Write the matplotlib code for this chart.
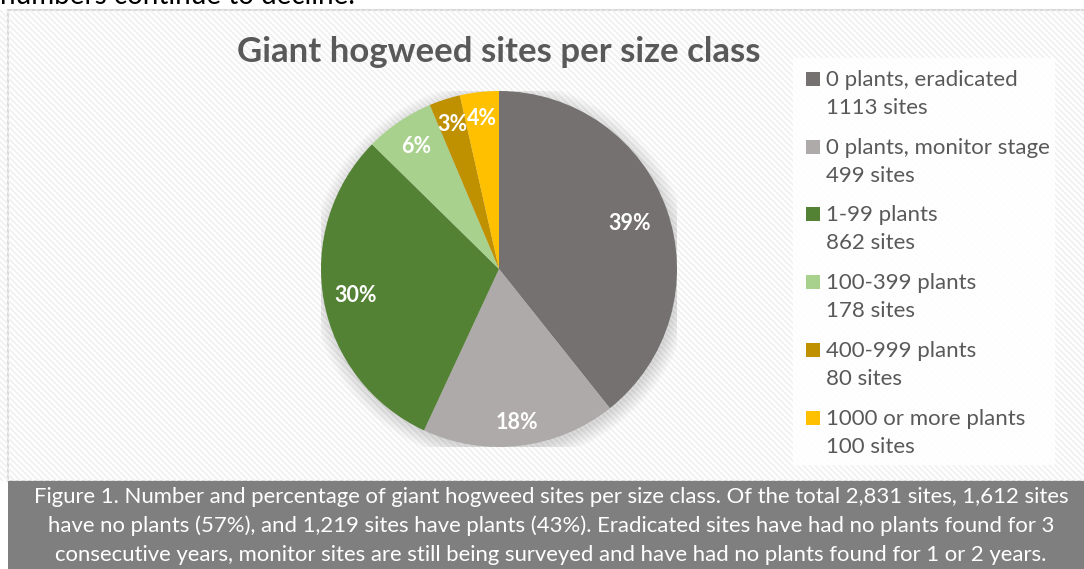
import numpy as np
import matplotlib
matplotlib.use('Agg')
import matplotlib.pyplot as plt
from matplotlib.patches import Rectangle, Circle
from matplotlib.collections import LineCollection

plt.rcParams['font.family'] = ['Lato', 'DejaVu Sans']

# data
classes = ['0 plants, eradicated', '0 plants, monitor stage', '1-99 plants',
           '100-399 plants', '400-999 plants', '1000 or more plants']
sites = [1113, 499, 862, 178, 80, 100]
colours = ['#767171', '#AEAAAA', '#548235', '#A9D18E', '#BF9000', '#FFC000']
label_dist = [0.78, 0.87, 0.82, 0.83, 0.85, 0.85]

title = 'Giant hogweed sites per size class'
caption = ['Figure 1. Number and percentage of giant hogweed sites per size class. Of the total 2,831 sites, 1,612 sites',
           'have no plants (57%), and 1,219 sites have plants (43%). Eradicated sites have had no plants found for 3',
           'consecutive years, monitor sites are still being surveyed and have had no plants found for 1 or 2 years.']
above = 'numbers continue to decline.'

W, H = 1084, 569
fig = plt.figure(figsize=(W / 100., H / 100.), dpi=100)
fig.patch.set_facecolor('white')

# pixel canvas for frame, stripes, legend, caption
bg = fig.add_axes([0, 0, 1, 1])
bg.set_xlim(0, W)
bg.set_ylim(H, 0)
bg.axis('off')

left, top, bottom = 8, 10, 481
frame = Rectangle((left, top), W - left + 5, bottom - top, facecolor='white',
                  edgecolor='#D9D9D9', lw=1.5, zorder=0)
bg.add_patch(frame)
segs = []
for x0 in np.arange(-600, W + 10, 6):
    segs.append([(x0, top), (x0 + (bottom - top), bottom)])
lc = LineCollection(segs, colors='#F1F1F1', linewidths=1.3, zorder=0.5)
lc.set_clip_path(frame)
bg.add_collection(lc)

bg.text(0, 4, above, fontsize=20, color='black', va='baseline', ha='left')

bg.text(499, 52, title, fontsize=25, fontweight='bold', color='#595959',
        ha='center', va='center')

# legend
bg.add_patch(Rectangle((793, 58), 262, 407, facecolor='white', edgecolor='none',
                       alpha=0.9, zorder=1))
for i, (name, n, c) in enumerate(zip(classes, sites, colours)):
    base = 86 + i * 67.7
    bg.add_patch(Rectangle((806, base - 14), 14, 14, facecolor=c, edgecolor='none', zorder=2))
    bg.text(826, base, name, fontsize=16, color='#595959', va='baseline', ha='left')
    bg.text(826, base + 28, '%d sites' % n, fontsize=16, color='#595959', va='baseline', ha='left')

# caption
bg.add_patch(Rectangle((left, bottom), W - left, H - bottom, facecolor='#7F7F7F',
                       edgecolor='none', zorder=2))
for k, line in enumerate(caption):
    bg.text(551, 497 + k * 29, line, fontsize=15.9, color='white', ha='center', va='center')

# pie
ax = fig.add_axes([321. / W, 122. / H, 356. / W, 356. / H])
ax.set_facecolor('none')
for r in np.linspace(1.0, 1.08, 12):
    ax.add_patch(Circle((0.01, -0.02), r, facecolor='#000000', alpha=0.012,
                        edgecolor='none', zorder=0))
wedges, texts, autotexts = ax.pie(sites, colors=colours, startangle=90, counterclock=False,
                                  autopct=lambda p: '%d%%' % round(p), radius=1.0,
                                  wedgeprops=dict(linewidth=0),
                                  textprops=dict(color='white', fontsize=15.5, fontweight='bold'))
for w, t, d in zip(wedges, autotexts, label_dist):
    ang = np.deg2rad((w.theta1 + w.theta2) / 2.)
    t.set_position((d * np.cos(ang), d * np.sin(ang)))
    t.set_ha('center')
    t.set_va('center')
ax.set_xlim(-1, 1)
ax.set_ylim(-1, 1)
ax.axis('off')

fig.savefig('out.png', dpi=100)
